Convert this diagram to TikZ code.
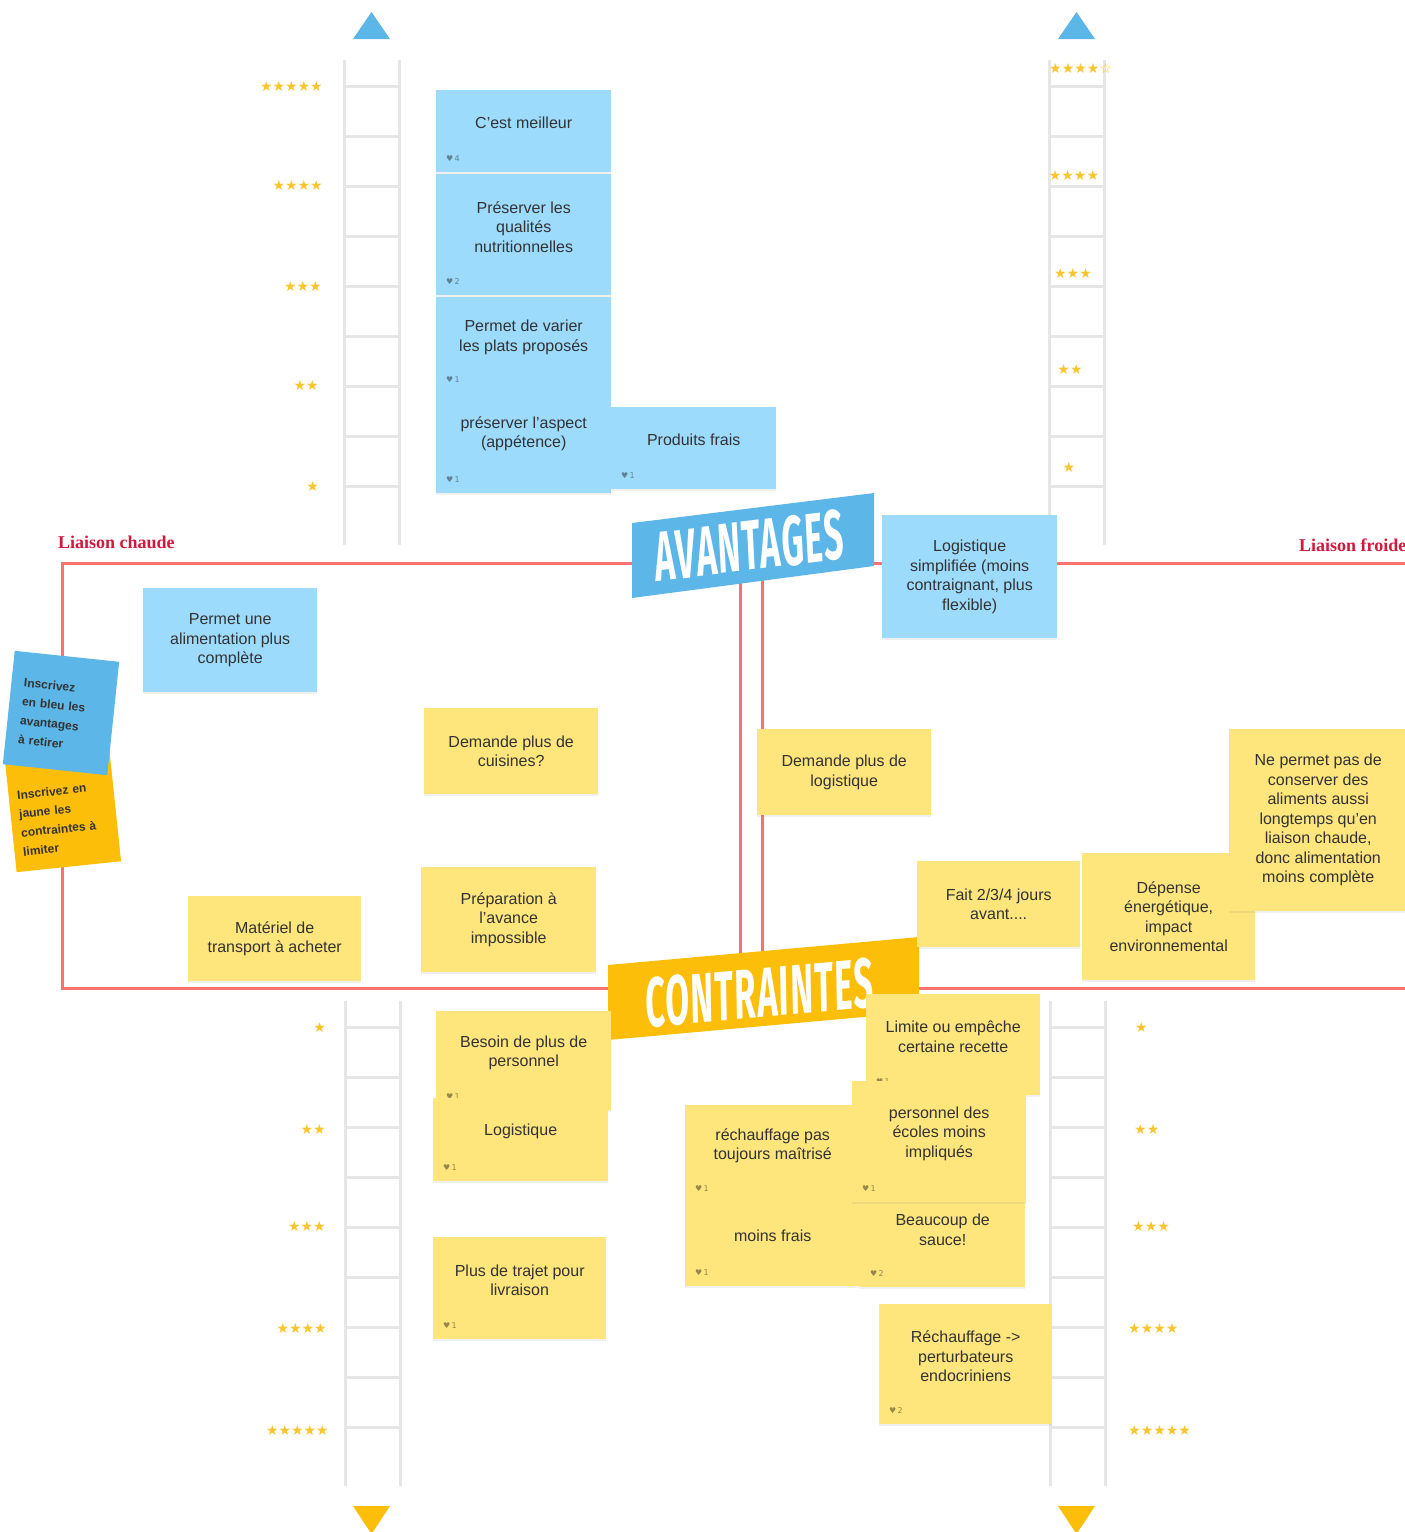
\documentclass[tikz,border=0pt]{standalone}
\usepackage{fontspec}
\setmainfont{Liberation Sans}
\newfontfamily\symbfont{DejaVu Sans}
\newfontfamily\headfont{Liberation Serif}
\newfontfamily\bannerfont[LetterSpace=4]{Fira Sans}
\usetikzlibrary{positioning}
\usetikzlibrary{shadows}
\definecolor{postblue}{HTML}{9DDBFD}
\definecolor{postyellow}{HTML}{FEE57C}
\definecolor{banblue}{HTML}{5CB7E8}
\definecolor{banorange}{HTML}{FDBE0A}
\definecolor{liaisonred}{HTML}{F87272}
\definecolor{headred}{HTML}{D3173D}
\definecolor{ladgrey}{HTML}{E6E6E6}
\definecolor{stargold}{HTML}{F8C52C}
\definecolor{inkgrey}{HTML}{333333}
\tikzset{
  postit/.style={anchor=north west, inner sep=0pt,
    drop shadow={shadow xshift=0pt, shadow yshift=-2pt, opacity=0.12}},
  note/.style={align=center, inner sep=0pt, text=inkgrey, font=\fontsize{16}{19.5}\selectfont},
  likes/.style={anchor=west, inner sep=0pt, text=black, text opacity=0.4,
    font=\symbfont\fontsize{8}{8}\selectfont},
  ladder/.style={draw=ladgrey, line width=3pt},
  stars/.style={inner sep=0pt, text=stargold, font=\symbfont\fontsize{14}{14}\selectfont},
  liaison/.style={draw=liaisonred, line width=3pt},
  liaisonlabel/.style={anchor=base west, inner sep=0pt, text=headred,
    font=\headfont\bfseries\fontsize{18}{18}\selectfont},
  banner/.style={inner sep=0pt, text=white, xscale=0.5,
    font=\bannerfont\bfseries\itshape\fontsize{70}{70}\selectfont},
  hint/.style={inner sep=0pt, align=left, text=inkgrey,
    text width=#1, font=\bfseries\fontsize{12}{19}\selectfont},
}
% name, colour, x, y, width, height, text, likes
\newcommand{\postit}[8]{%
  \node[postit, fill=#2, minimum width=#5pt, minimum height=#6pt] (#1) at (#3,#4) {};
  \if\relax\detokenize{#8}\relax
    \node[note] (#1-t) at (#1.center) {#7};
  \else
    \node[note] (#1-t) at ([yshift=8pt]#1.center) {#7};
    \node[likes] (#1-l) at ([xshift=10pt,yshift=14pt]#1.south west) {♥\,#8};
  \fi}

\begin{document}
\begin{tikzpicture}[x=1pt, y=-1pt]
    \useasboundingbox (0,0) rectangle (1405,1532);
    \clip (0,0) rectangle (1405,1532);

    \foreach \lx/\ly in {344/60, 1049/60, 345/1001, 1050/1001} {
        \draw[ladder] (\lx,\ly) -- (\lx,\ly+485) (\lx+55,\ly) -- (\lx+55,\ly+485);
        \foreach \k in {0,...,8}
            \draw[ladder] (\lx,\ly+26+50*\k) -- (\lx+55,\ly+26+50*\k);
    }

    \fill[banblue] (353,39) -- (390,39) -- (371.5,12) -- cycle;
    \fill[banblue] (1058,39) -- (1095,39) -- (1076.5,12) -- cycle;
    \fill[banorange] (353,1506) -- (390,1506) -- (371.5,1534) -- cycle;
    \fill[banorange] (1058,1506) -- (1095,1506) -- (1076.5,1534) -- cycle;

    \node[stars, anchor=east] (tl5) at (323,86) {★★★★★};
    \node[stars, anchor=east] (tl4) at (323,185) {★★★★};
    \node[stars, anchor=east] (tl3) at (322,286) {★★★};
    \node[stars, anchor=east] (tl2) at (319,385) {★★};
    \node[stars, anchor=east] (tl1) at (319,486) {★};
    \node[stars, anchor=west] (tr5) at (1049,68) {★★★★☆};
    \node[stars] (tr4) at (1074,175) {★★★★};
    \node[stars] (tr3) at (1073,273) {★★★};
    \node[stars] (tr2) at (1070,369) {★★};
    \node[stars] (tr1) at (1069,467) {★};
    \node[stars, anchor=east] (bl1) at (326,1027) {★};
    \node[stars, anchor=east] (bl2) at (326,1129) {★★};
    \node[stars, anchor=east] (bl3) at (326,1226) {★★★};
    \node[stars, anchor=east] (bl4) at (327,1328) {★★★★};
    \node[stars, anchor=east] (bl5) at (329,1430) {★★★★★};
    \node[stars, anchor=west] (br1) at (1135,1027) {★};
    \node[stars, anchor=west] (br2) at (1134,1129) {★★};
    \node[stars, anchor=west] (br3) at (1132,1226) {★★★};
    \node[stars, anchor=west] (br4) at (1128,1328) {★★★★};
    \node[stars, anchor=west] (br5) at (1128,1430) {★★★★★};

    \draw[liaison] (62,563) rectangle (740,988);
    \draw[liaison] (762,563) rectangle (1425,988);
    \node[liaisonlabel] (hot) at (58,548) {Liaison chaude};
    \node[liaisonlabel] (cold) at (1299,551) {Liaison froide};

    \fill[banblue] (632,523) -- (874,493) -- (874,566) -- (632,598) -- cycle;
    \node[rotate=7, banner] (avantages) at (749,546) {AVANTAGES};
    \fill[banorange] (608,965) -- (919,937) -- (919,1012) -- (608,1040) -- cycle;
    \node[rotate=5, banner] (contraintes) at (759,993) {CONTRAINTES};

    \postit{best}{postblue}{436}{90}{175}{82}{C'est meilleur}{4}
    \postit{nutri}{postblue}{436}{174}{175}{121}{Préserver les\\qualités\\nutritionnelles}{2}
    \postit{vary}{postblue}{436}{297}{175}{96}{Permet de varier\\les plats proposés}{1}
    \postit{look}{postblue}{436}{390}{175}{103}{préserver l'aspect\\(appétence)}{1}
    \postit{fresh}{postblue}{611}{407}{165}{82}{Produits frais}{1}
    \postit{simple}{postblue}{882}{515}{175}{123}{Logistique\\simplifiée (moins\\contraignant, plus\\flexible)}{}
    \postit{complete}{postblue}{143}{588}{174}{104}{Permet une\\alimentation plus\\complète}{}

    \postit{kitchens}{postyellow}{424}{708}{174}{86}{Demande plus de\\cuisines?}{}
    \postit{prep}{postyellow}{421}{867}{175}{105}{Préparation à\\l'avance\\impossible}{}
    \postit{transport}{postyellow}{188}{896}{173}{85}{Matériel de\\transport à acheter}{}
    \postit{morelog}{postyellow}{757}{729}{174}{86}{Demande plus de\\logistique}{}
    \postit{days}{postyellow}{917}{861}{163}{86}{Fait 2/3/4 jours\\avant....}{}
    \postit{energy}{postyellow}{1082}{853}{173}{127}{Dépense\\énergétique,\\impact\\environnemental}{}
    \postit{keep}{postyellow}{1229}{729}{178}{182}{Ne permet pas de\\conserver des\\aliments aussi\\longtemps qu'en\\liaison chaude,\\donc alimentation\\moins complète}{}
    \postit{staff}{postyellow}{436}{1011}{175}{99}{Besoin de plus de\\personnel}{1}
    \postit{logistics}{postyellow}{433}{1098}{175}{83}{Logistique}{1}
    \postit{trip}{postyellow}{433}{1237}{173}{102}{Plus de trajet pour\\livraison}{1}
    \postit{reheat}{postyellow}{685}{1105}{175}{97}{réchauffage pas\\toujours maîtrisé}{1}
    \postit{lessfresh}{postyellow}{685}{1202}{175}{84}{moins frais}{1}
    \postit{recipe}{postyellow}{866}{994}{174}{101}{Limite ou empêche\\certaine recette}{1}
    \postit{sauce}{postyellow}{860}{1188}{165}{99}{Beaucoup de\\sauce!}{2}
    \postit{school}{postyellow}{852}{1081}{174}{121}{personnel des\\écoles moins\\impliqués}{1}
    \postit{endocrine}{postyellow}{879}{1304}{173}{120}{Réchauffage ->\\perturbateurs\\endocriniens}{2}

    \node[rotate=6, fill=banorange, minimum width=105pt, minimum height=112pt, inner sep=0pt] (hint-yellow) at (63,811) {};
    \node[rotate=6, hint=86pt] (hint-yellow-t) at ([xshift=0pt,yshift=-8pt]hint-yellow.center) {Inscrivez en\\jaune les\\contraintes à\\limiter};
    \node[rotate=-6, fill=banblue, minimum width=105pt, minimum height=114pt, inner sep=0pt] (hint-blue) at (61,713) {};
    \node[rotate=-6, hint=78pt] (hint-blue-t) at ([xshift=-1pt,yshift=-2pt]hint-blue.center) {Inscrivez\\en bleu les\\avantages\\à retirer};
\end{tikzpicture}
\end{document}
